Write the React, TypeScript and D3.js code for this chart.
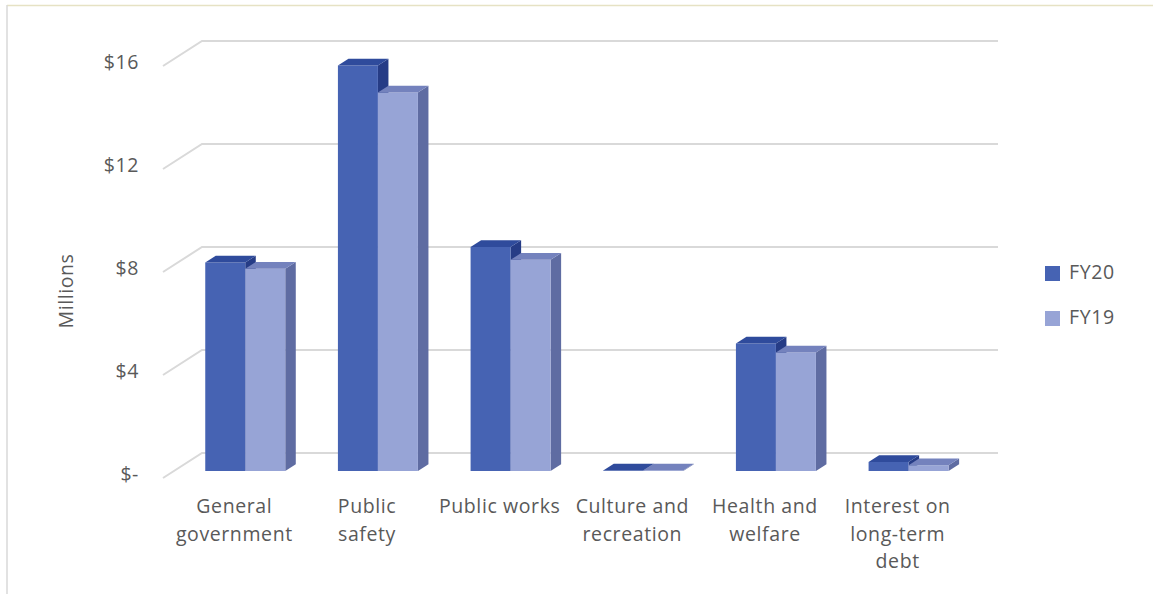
import React from "react";
import * as d3 from "d3";

const categories = [
  "General government",
  "Public safety",
  "Public works",
  "Culture and recreation",
  "Health and welfare",
  "Interest on long-term debt",
];
const categoryLines = [
  ["General", "government"],
  ["Public", "safety"],
  ["Public works"],
  ["Culture and", "recreation"],
  ["Health and", "welfare"],
  ["Interest on", "long-term", "debt"],
];
const seriesNames = ["FY20", "FY19"];
const fy20 = [8.1, 15.75, 8.7, 0.02, 4.95, 0.35];
const fy19 = [7.85, 14.7, 8.2, 0.02, 4.6, 0.22];
const yTicks = [0, 4, 8, 12, 16];
const yTickLabels = ["$-", "$4", "$8", "$12", "$16"];

const W = 1153;
const H = 594;
const DX = 39;
const DY = -25;
const T0 = 0.28;
const T1 = 0.55;
const FONT = "'Open Sans', 'Noto Sans', sans-serif";
const TXT = "#595959";
const FS = 19.5;
const LS = 0.6;

const palette = [
  { front: "#4663b3", top: "#2f4b9c", side: "#263c86" },
  { front: "#97a4d6", top: "#7482bd", side: "#5f6ca2" },
];

export default function App() {
  const x = d3.scaleBand<string>().domain(categories).range([168, 964]);
  const y = d3.scaleLinear().domain([0, 16]).range([478, 66]);
  const wallLeft = 163;
  const wallRight = 998 - DX;

  const proj = (px: number, v: number, t: number): [number, number] => [
    px + t * DX,
    y(v) + t * DY,
  ];
  const poly = (pts: [number, number][]) =>
    pts.map((p) => p.map((n) => n.toFixed(2)).join(",")).join(" ");

  const barWidth = 40;
  const series = [fy20, fy19];

  const bars: React.ReactNode[] = [];
  categories.forEach((c, i) => {
    const center = (x(c) as number) + x.bandwidth() / 2;
    series.forEach((vals, s) => {
      const v = vals[i];
      const x0 = center - barWidth + s * barWidth;
      const x1 = x0 + barWidth;
      const col = palette[s];
      const front = [proj(x0, 0, T0), proj(x1, 0, T0), proj(x1, v, T0), proj(x0, v, T0)];
      const top = [proj(x0, v, T0), proj(x1, v, T0), proj(x1, v, T1), proj(x0, v, T1)];
      const side = [proj(x1, 0, T0), proj(x1, 0, T1), proj(x1, v, T1), proj(x1, v, T0)];
      bars.push(
        <g key={`${c}-${s}`}>
          <polygon points={poly(side)} fill={col.side} />
          <polygon points={poly(front)} fill={col.front} />
          <polygon points={poly(top)} fill={col.top} />
        </g>
      );
    });
  });

  return (
    <svg
      width={W}
      height={H}
      style={{ position: "absolute", left: 0, top: 0, background: "#fff" }}
      fontFamily={FONT}
    >
      <rect x={0} y={0} width={W} height={H} fill="#fff" />
      <line x1={7} y1={5.5} x2={W} y2={5.5} stroke="#e6e2c4" strokeWidth={1.5} />
      <line x1={7} y1={5} x2={7} y2={H} stroke="#d9d9d9" strokeWidth={1.5} />

      {yTicks.map((t) => {
        const a = proj(wallLeft, t, 0);
        const b = proj(wallLeft, t, 1);
        const e = proj(wallRight, t, 1);
        return (
          <g key={t}>
            <polyline
              points={poly([a, b, e])}
              fill="none"
              stroke="#d9d9d9"
              strokeWidth={2}
            />
          </g>
        );
      })}

      {bars}

      {yTicks.map((t, i) => (
        <text
          key={t}
          x={139}
          y={y(t) - 2}
          textAnchor="end"
          dominantBaseline="middle"
          fontSize={FS}
          letterSpacing={LS}
          fill={TXT}
        >
          {yTickLabels[i]}
        </text>
      ))}

      <text
        transform={`translate(73,291) rotate(-90)`}
        textAnchor="middle"
        fontSize={FS}
        letterSpacing={LS}
        fill={TXT}
      >
        Millions
      </text>

      {categories.map((c, i) => {
        const cx = (x(c) as number) + x.bandwidth() / 2;
        return (
          <text key={c} textAnchor="middle" fontSize={FS} letterSpacing={LS} fill={TXT}>
            {categoryLines[i].map((ln, j) => (
              <tspan key={j} x={cx} y={513 + j * 27.5}>
                {ln}
              </tspan>
            ))}
          </text>
        );
      })}

      {seriesNames.map((n, s) => (
        <g key={n}>
          <rect x={1045} y={266 + s * 45} width={15} height={15} fill={palette[s].front} />
          <text
            x={1069}
            y={273.5 + s * 45}
            dominantBaseline="middle"
            fontSize={FS}
            letterSpacing={LS}
            fill={TXT}
          >
            {n}
          </text>
        </g>
      ))}
    </svg>
  );
}
